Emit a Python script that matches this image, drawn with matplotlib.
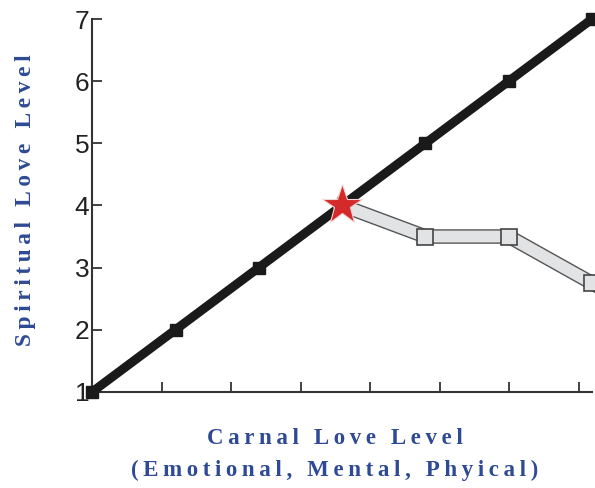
import matplotlib.pyplot as plt
import matplotlib.patheffects as pe

# spiritual vs carnal love levels
carnal = [1, 2, 3, 4, 5, 6, 7]
spiritual = [1, 2, 3, 4, 5, 6, 7]
branch_x = [4, 5, 6, 7]
branch_y = [4, 3.5, 3.5, 2.75]
star_x, star_y = 4, 4
xticks = [1, 1.834, 2.668, 3.502, 4.336, 5.17, 6.004, 6.838]
yticks = [1, 2, 3, 4, 5, 6, 7]

blue = '#2e4a94'
serif = ['Liberation Serif', 'DejaVu Serif']


def spaced(s, sep='\u2009'):
    # letter-spaced label text
    return sep.join(s)


fig = plt.figure(figsize=(5.95, 4.88), dpi=100)
ax = fig.add_axes([0.155, 0.197, 0.84, 0.764])

ax.plot(carnal, spiritual, color='#1a1a1a', lw=6.5, marker='s', ms=9,
        mfc='#1a1a1a', mec='#1a1a1a', clip_on=False, zorder=3,
        solid_capstyle='butt')
ax.plot(branch_x, branch_y, color='#e2e3e5', lw=8.5, clip_on=False, zorder=4,
        path_effects=[pe.Stroke(linewidth=10.5, foreground='#555555'), pe.Normal()])
ax.plot(branch_x[1:], branch_y[1:], ls='none', marker='s', ms=11,
        mfc='#e2e3e5', mec='#444444', mew=1.2, clip_on=False, zorder=5)
ax.plot([star_x], [star_y], marker='*', ms=30, color='#d42a2a', mec='#f3d6d6',
        mew=0.8, clip_on=False, zorder=6)

ax.set_xlim(1, 7)
ax.set_ylim(1, 7)
ax.set_xticks(xticks)
ax.set_xticklabels([])
ax.set_yticks(yticks)
ax.tick_params(direction='in', length=7, width=1.3, color='#333333',
               labelsize=19, labelcolor='#222222', pad=2)
for lab in ax.get_yticklabels():
    lab.set_family(['Liberation Sans', 'DejaVu Sans'])

for s in ['top', 'right']:
    ax.spines[s].set_visible(False)
for s in ['left', 'bottom']:
    ax.spines[s].set_linewidth(1.5)
    ax.spines[s].set_color('#333333')

fig.text(0.043, 0.59, spaced('Spiritual Love Level'), rotation=90,
         ha='center', va='center', fontsize=16.8, color=blue, family=serif,
         fontweight='bold')
fig.text(0.563, 0.102, spaced('Carnal Love Level'), ha='center', va='center',
         fontsize=16.5, color=blue, family=serif, fontweight='bold')
fig.text(0.563, 0.037, spaced('(Emotional, Mental, Phyical)'), ha='center',
         va='center', fontsize=16.5, color=blue, family=serif, fontweight='bold')

fig.savefig('out.png', dpi=100)
